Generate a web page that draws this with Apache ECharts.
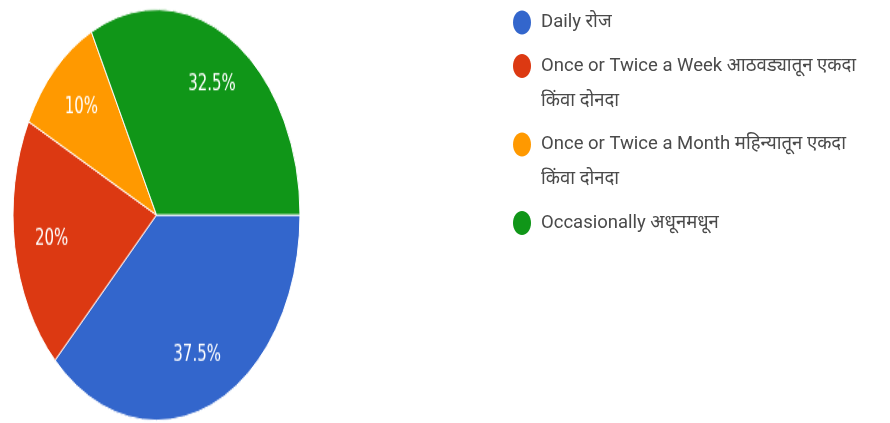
<!DOCTYPE html>
<html>
<head>
<meta charset="utf-8">
<script src="https://cdn.jsdelivr.net/npm/echarts@6/dist/echarts.min.js"></script>
<style>
  html, body { margin: 0; padding: 0; background: #ffffff; }
  #stage { position: relative; width: 890px; height: 423px; overflow: hidden; }
  /* the pie is drawn as a vertically stretched ellipse */
  #pie { position: absolute; left: 0; top: 0; width: 320px; height: 295.4px;
         transform: scaleY(1.432); transform-origin: 0 0; }
  #key { position: absolute; left: 0; top: 0; width: 890px; height: 423px; }
</style>
</head>
<body>
<div id="stage">
  <div id="pie"></div>
  <div id="key"></div>
</div>
<script>
// Answers: how often
const categories = [
  'Daily रोज',
  'Once or Twice a Week आठवड्यातून एकदा किंवा दोनदा',
  'Once or Twice a Month महिन्यातून एकदा किंवा दोनदा',
  'Occasionally अधूनमधून'
];
const shares = [37.5, 20, 10, 32.5];
const colors = ['#3366cc', '#dc3912', '#ff9900', '#109618'];

const pieData = categories.map((name, i) => ({ name, value: shares[i] }));

// ---- pie ----
const PIE_CX = 156.5, PIE_CY = 150.1, PIE_R = 143.5;
const pieChart = echarts.init(document.getElementById('pie'), null, { renderer: 'canvas' });
pieChart.setOption({
  animation: false,
  color: colors,
  series: [{
    type: 'pie',
    center: [PIE_CX, PIE_CY],
    radius: [0, PIE_R],
    startAngle: 0,
    clockwise: true,
    itemStyle: { borderColor: '#ffffff', borderWidth: 1 },
    label: {
      show: true,
      position: 'inside',
      formatter: p => p.value + '%',
      color: '#ffffff',
      fontFamily: '"DejaVu Sans", sans-serif',
      fontSize: 15
    },
    // push the percentage labels further out along each slice's bisector
    labelLayout: params => {
      const r = params.labelRect;
      const lx = r.x + r.width / 2, ly = r.y + r.height / 2;
      return { dx: (lx - PIE_CX) * 0.42, dy: (ly - PIE_CY) * 0.42 };
    },
    labelLine: { show: false },
    emphasis: { disabled: true },
    data: pieData
  }]
});

// ---- key ----
const KEY_X = 522, KEY_TEXT_X = 541, KEY_TOP = 22.5, LINE_H = 35, ROW_GAP = 8.5;
const keyFont = '18.5px Roboto, "Noto Sans Devanagari", "Lohit Devanagari", "FreeSans", "Noto Sans", sans-serif';
const wrapName = name => name.replace(' किंवा', '\nकिंवा');

const keyElements = [];
let rowY = KEY_TOP;
categories.forEach((name, i) => {
  const text = wrapName(name);
  const lines = text.split('\n').length;
  keyElements.push({
    type: 'ellipse',
    shape: { cx: KEY_X, cy: rowY, rx: 9, ry: 12 },
    style: { fill: colors[i] },
    silent: true
  });
  keyElements.push({
    type: 'text',
    x: KEY_TEXT_X,
    y: rowY - LINE_H / 2,
    style: {
      text: text,
      font: keyFont,
      fill: '#4a4a4a',
      lineHeight: LINE_H,
      align: 'left',
      verticalAlign: 'top'
    },
    silent: true
  });
  rowY += lines * LINE_H + ROW_GAP;
});

const keyChart = echarts.init(document.getElementById('key'), null, { renderer: 'canvas' });
keyChart.setOption({
  animation: false,
  graphic: { elements: keyElements }
});
</script>
</body>
</html>
